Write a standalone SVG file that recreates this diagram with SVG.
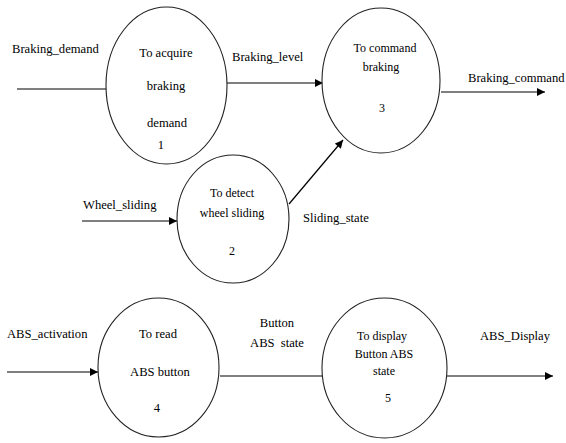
<svg xmlns="http://www.w3.org/2000/svg" width="566" height="443" viewBox="0 0 566 443">
<style>
.bg{fill:#fff}
.proc{fill:#fff;stroke:#222;stroke-width:1.1}
.flow{fill:none;stroke:#000;stroke-width:1.2}
.t{font-family:'Liberation Serif','DejaVu Serif',serif;font-size:12.6px;fill:#000}
.c{text-anchor:middle}
.s{font-size:12px}
</style>
<defs>
<marker id="arr" viewBox="0 0 10 10" refX="10" refY="5" markerWidth="9" markerHeight="8" markerUnits="userSpaceOnUse" orient="auto">
<path d="M0,0 L10,5 L0,10 z" fill="#000"/>
</marker>
</defs>
<rect class="bg" x="0" y="0" width="566" height="443"/>
<g id="connectors">
<line class="flow" x1="17" y1="89" x2="106" y2="89"/>
<line class="flow" x1="227" y1="83" x2="323" y2="83" marker-end="url(#arr)"/>
<line class="flow" x1="441" y1="92" x2="545" y2="92" marker-end="url(#arr)"/>
<line class="flow" x1="82" y1="221" x2="177" y2="221" marker-end="url(#arr)"/>
<line class="flow" x1="289" y1="204" x2="343" y2="140" marker-end="url(#arr)"/>
<line class="flow" x1="7" y1="372" x2="98" y2="372" marker-end="url(#arr)"/>
<line class="flow" x1="220" y1="376" x2="322" y2="376"/>
<line class="flow" x1="447" y1="376" x2="553" y2="376" marker-end="url(#arr)"/>
<g font-family="Liberation Serif, serif">
<text class="t" x="12" y="53">Braking_demand</text>
<text class="t" x="232" y="61">Braking_level</text>
<text class="t" x="468" y="82">Braking_command</text>
<text class="t" x="83" y="209">Wheel_sliding</text>
<text class="t" x="303" y="222">Sliding_state</text>
<text class="t" x="7" y="338">ABS_activation</text>
<text class="t c" x="277" y="327">Button</text>
<text class="t c" x="277" y="347" xml:space="preserve">ABS  state</text>
<text class="t" x="480" y="340">ABS_Display</text>
</g>
</g>
<g id="p1" font-family="Liberation Serif, serif">
<ellipse class="proc" cx="166.5" cy="85.5" rx="60.5" ry="78.5"/>
<text class="t c" x="166" y="57">To acquire</text>
<text class="t c" x="166" y="90">braking</text>
<text class="t c" x="167" y="127">demand</text>
<text class="t c" x="161" y="149">1</text>
</g>
<g id="p3" font-family="Liberation Serif, serif">
<ellipse class="proc" cx="381" cy="80.5" rx="59" ry="72.5"/>
<text class="t c s" x="385" y="52">To command</text>
<text class="t c s" x="381" y="71">braking</text>
<text class="t c s" x="382" y="112">3</text>
</g>
<g id="p2" font-family="Liberation Serif, serif">
<ellipse class="proc" cx="233" cy="219" rx="56" ry="64"/>
<text class="t c s" x="232" y="197">To detect</text>
<text class="t c s" x="232" y="217">wheel sliding</text>
<text class="t c s" x="232" y="255">2</text>
</g>
<g id="p4" font-family="Liberation Serif, serif">
<ellipse class="proc" cx="158.5" cy="367.5" rx="60.5" ry="69.5"/>
<text class="t c" x="158" y="338">To read</text>
<text class="t c" x="160" y="376">ABS button</text>
<text class="t c" x="157" y="412">4</text>
</g>
<g id="p5" font-family="Liberation Serif, serif">
<ellipse class="proc" cx="384.5" cy="368" rx="62.5" ry="70"/>
<text class="t c s" x="382" y="340">To display</text>
<text class="t c s" x="384" y="358">Button ABS</text>
<text class="t c s" x="384" y="375">state</text>
<text class="t c s" x="388" y="402">5</text>
</g>
</svg>
